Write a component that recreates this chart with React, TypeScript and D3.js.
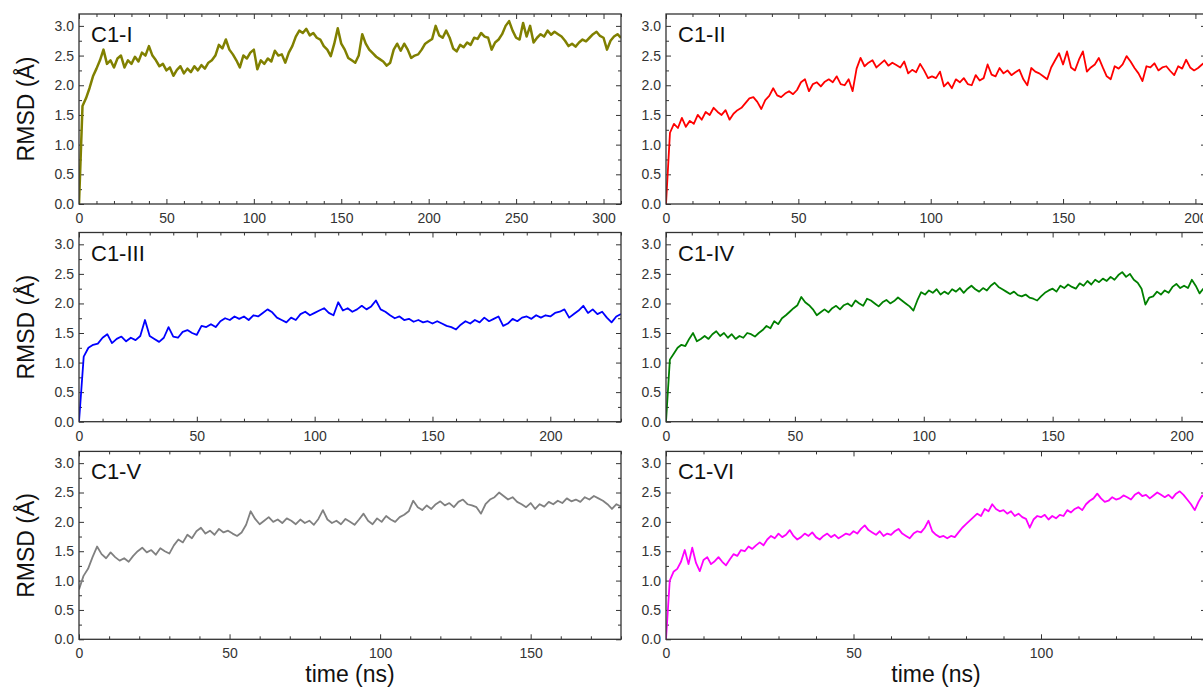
import React, { useRef, useEffect } from "react";
import * as d3 from "d3";

// panel names, colours and time sampling (ns)
const names = ["C1-I", "C1-II", "C1-III", "C1-IV", "C1-V", "C1-VI"];
const colors = ["#808000", "#ff0000", "#0000ff", "#008000", "#808080", "#ff00ff"];
const timeStep = [2, 1.5, 2, 1.5, 1.5, 1];
const timeMax = [310, 204, 230, 209.5, 180, 144];
const yTicks = [0, 0.5, 1, 1.5, 2, 2.5, 3];

// RMSD (Å)
const rmsdI = [
  0, 1.65, 1.78, 1.95, 2.15, 2.28, 2.42, 2.6, 2.36, 2.42,
  2.3, 2.45, 2.5, 2.3, 2.42, 2.36, 2.48, 2.4, 2.55, 2.5,
  2.66, 2.5, 2.42, 2.32, 2.36, 2.25, 2.3, 2.16, 2.26, 2.32,
  2.2, 2.28, 2.22, 2.32, 2.25, 2.34, 2.28, 2.38, 2.42, 2.5,
  2.68, 2.62, 2.77, 2.6, 2.52, 2.42, 2.3, 2.5, 2.45, 2.55,
  2.6, 2.27, 2.42, 2.36, 2.45, 2.4, 2.58, 2.5, 2.52, 2.38,
  2.55, 2.66, 2.82, 2.92, 2.88, 2.95, 2.84, 2.88, 2.8, 2.77,
  2.66, 2.6, 2.49, 2.7, 2.96, 2.7, 2.6, 2.46, 2.42, 2.38,
  2.5, 2.86, 2.7, 2.6, 2.54, 2.48, 2.44, 2.4, 2.33, 2.38,
  2.6, 2.7, 2.58, 2.7, 2.6, 2.46, 2.5, 2.52, 2.6, 2.7,
  2.74, 2.78, 3.0, 2.84, 2.8, 2.92, 2.8, 2.62, 2.57, 2.68,
  2.64, 2.72, 2.68, 2.8, 2.78, 2.88, 2.82, 2.8, 2.6, 2.72,
  2.77, 2.86, 3.0, 3.08, 2.92, 2.8, 2.77, 3.05, 2.82, 3.0,
  2.72, 2.8, 2.86, 2.82, 2.92, 2.85, 2.9, 2.86, 2.82, 2.75,
  2.66, 2.7, 2.65, 2.72, 2.77, 2.74, 2.8, 2.86, 2.9, 2.83,
  2.8, 2.6, 2.75, 2.82, 2.86, 2.8
];
const rmsdII = [
  0, 1.2, 1.35, 1.28, 1.45, 1.3, 1.4, 1.35, 1.5, 1.42,
  1.55, 1.5, 1.62, 1.55, 1.5, 1.58, 1.42, 1.52, 1.58, 1.62,
  1.7, 1.78, 1.8, 1.72, 1.6, 1.75, 1.82, 1.95, 1.83, 1.8,
  1.86, 1.9, 1.85, 1.92, 2.05, 2.1, 1.9, 2.02, 2.05, 1.98,
  2.06, 2.1, 2.05, 2.15, 2.02, 2.0, 2.1, 1.9, 2.28, 2.46,
  2.32, 2.38, 2.42, 2.3, 2.36, 2.42, 2.33, 2.38, 2.34, 2.3,
  2.4, 2.2, 2.26, 2.22, 2.36, 2.25, 2.12, 2.15, 2.12, 2.23,
  1.98, 2.05, 1.95, 2.1, 2.05, 2.12, 2.02, 2.0, 2.17, 2.08,
  2.12, 2.35, 2.18, 2.15, 2.29, 2.2, 2.25, 2.17, 2.22, 2.26,
  2.1, 2.0, 2.29, 2.23, 2.2, 2.15, 2.1, 2.3, 2.42, 2.54,
  2.35, 2.57, 2.3, 2.25, 2.43, 2.57, 2.23, 2.3, 2.35, 2.46,
  2.3, 2.15, 2.1, 2.32, 2.28, 2.35, 2.49, 2.4, 2.29, 2.2,
  2.07, 2.32, 2.3, 2.37, 2.25, 2.3, 2.32, 2.24, 2.17, 2.32,
  2.28, 2.43, 2.3, 2.25, 2.29, 2.35, 2.4
];
const rmsdIII = [
  0, 1.1, 1.25, 1.3, 1.32, 1.42, 1.48, 1.33, 1.4, 1.44,
  1.36, 1.42, 1.38, 1.45, 1.72, 1.45, 1.4, 1.35, 1.42, 1.6,
  1.44, 1.42, 1.52, 1.55, 1.5, 1.47, 1.62, 1.6, 1.65, 1.6,
  1.7, 1.75, 1.72, 1.78, 1.74, 1.78, 1.72, 1.8, 1.78, 1.84,
  1.9, 1.85, 1.76, 1.72, 1.68, 1.76, 1.72, 1.82, 1.86, 1.8,
  1.84, 1.88, 1.92, 1.84, 1.8, 2.02, 1.88, 1.92, 1.86, 1.9,
  1.96, 1.9, 1.95, 2.05, 1.9, 1.86, 1.8, 1.75, 1.78, 1.72,
  1.74, 1.69, 1.72, 1.68, 1.7, 1.66, 1.7, 1.66, 1.62, 1.6,
  1.56, 1.64, 1.7, 1.66, 1.72, 1.68, 1.76, 1.7, 1.74, 1.78,
  1.62, 1.66, 1.74, 1.7, 1.76, 1.78, 1.74, 1.8, 1.76, 1.8,
  1.78, 1.84, 1.86, 1.9, 1.76, 1.82, 1.88, 1.96, 1.84, 1.9,
  1.82, 1.86, 1.76, 1.68, 1.78, 1.82
];
const rmsdIV = [
  0, 1.05, 1.15, 1.25, 1.3, 1.28, 1.4, 1.5, 1.36, 1.4,
  1.45, 1.4, 1.48, 1.53, 1.45, 1.5, 1.42, 1.48, 1.4, 1.45,
  1.42, 1.5, 1.48, 1.44, 1.5, 1.55, 1.62, 1.58, 1.7, 1.65,
  1.75, 1.8, 1.86, 1.92, 1.97, 2.11, 2.02, 1.97, 1.9, 1.8,
  1.85, 1.9, 1.85, 1.92, 1.96, 1.9, 1.97, 2.0, 1.95, 2.05,
  2.0, 1.96, 2.08, 2.05, 2.0, 1.95, 2.02, 2.06, 2.0, 2.04,
  2.1, 2.05, 2.0, 1.95, 1.88, 2.05, 2.19, 2.15, 2.22, 2.18,
  2.24, 2.15, 2.2, 2.16, 2.24, 2.2, 2.26, 2.18, 2.25, 2.3,
  2.24, 2.2, 2.26, 2.22, 2.3, 2.35, 2.28, 2.24, 2.2, 2.16,
  2.2, 2.14, 2.12, 2.15, 2.1, 2.08, 2.05, 2.12, 2.18, 2.22,
  2.25, 2.2, 2.3, 2.26, 2.32, 2.28, 2.25, 2.34, 2.3, 2.38,
  2.32, 2.4, 2.36, 2.42, 2.38, 2.45, 2.4, 2.48, 2.53, 2.45,
  2.5, 2.4, 2.35, 2.25, 1.98, 2.1, 2.12, 2.2, 2.15, 2.22,
  2.18, 2.28, 2.33, 2.26, 2.3, 2.26, 2.4, 2.3, 2.17, 2.25
];
const rmsdV = [
  0.85, 1.08, 1.2, 1.4, 1.58, 1.45, 1.38, 1.48, 1.4, 1.34,
  1.38, 1.32, 1.42, 1.5, 1.56, 1.48, 1.52, 1.44, 1.55, 1.5,
  1.46, 1.6, 1.7, 1.65, 1.78, 1.72, 1.84, 1.9, 1.8, 1.85,
  1.78, 1.88, 1.82, 1.85, 1.8, 1.76, 1.82, 1.95, 2.18, 2.05,
  1.96, 2.02, 2.08, 2.0, 2.04, 1.98, 2.06, 2.02, 1.96, 2.04,
  1.98, 2.02, 1.95, 2.05, 2.2, 2.04, 1.98, 2.02, 1.96, 2.05,
  2.0, 1.95, 2.04, 2.14, 2.02, 1.96, 2.06, 2.0, 2.1, 2.04,
  2.0, 2.08, 2.12, 2.18, 2.36, 2.25, 2.2, 2.28, 2.22, 2.3,
  2.35, 2.28, 2.32, 2.25, 2.34, 2.38, 2.3, 2.28, 2.25, 2.14,
  2.3, 2.38, 2.42, 2.5, 2.44, 2.38, 2.42, 2.34, 2.3, 2.25,
  2.32, 2.22, 2.3, 2.26, 2.34, 2.3, 2.36, 2.32, 2.4, 2.35,
  2.38, 2.34, 2.42, 2.38, 2.44, 2.4, 2.36, 2.3, 2.22, 2.3,
  2.26
];
const rmsdVI = [
  0, 1.0, 1.15, 1.2, 1.32, 1.52, 1.28, 1.56, 1.3, 1.16,
  1.35, 1.4, 1.28, 1.33, 1.4, 1.32, 1.26, 1.36, 1.45, 1.42,
  1.52, 1.5, 1.58, 1.54, 1.6, 1.65, 1.6, 1.7, 1.76, 1.72,
  1.8, 1.74, 1.78, 1.86, 1.76, 1.7, 1.74, 1.8, 1.76, 1.82,
  1.74, 1.7, 1.76, 1.8, 1.74, 1.78, 1.72, 1.76, 1.8, 1.78,
  1.84, 1.8, 1.88, 1.94, 1.86, 1.82, 1.78, 1.84, 1.76, 1.8,
  1.78, 1.84, 1.88, 1.8, 1.76, 1.72, 1.8, 1.84, 1.82, 1.9,
  2.02, 1.84, 1.78, 1.74, 1.76, 1.72, 1.76, 1.74, 1.82, 1.9,
  1.96, 2.02, 2.08, 2.14, 2.1, 2.22, 2.18, 2.3, 2.22, 2.18,
  2.2, 2.14, 2.18, 2.1, 2.14, 2.08, 2.05, 1.9, 2.04, 2.1,
  2.08, 2.12, 2.04, 2.1, 2.06, 2.12, 2.1, 2.2, 2.16, 2.22,
  2.25, 2.2, 2.3, 2.36, 2.4, 2.48, 2.4, 2.34, 2.36, 2.42,
  2.38, 2.4, 2.45, 2.42, 2.38, 2.46, 2.5, 2.44, 2.46, 2.4,
  2.45, 2.5, 2.46, 2.42, 2.46, 2.4, 2.48, 2.52, 2.46, 2.38,
  2.3, 2.2, 2.34, 2.45, 2.4
];

const series = [rmsdI, rmsdII, rmsdIII, rmsdIV, rmsdV, rmsdVI];

const font = "'Liberation Sans', Arial, sans-serif";
const ink = "#333";

const App = () => {
  const ref = useRef(null);

  useEffect(() => {
    document.body.style.margin = "0";
    const svg = d3.select(ref.current);
    svg.selectAll("*").remove();

    // panel boxes in pixels
    const cols = [[79, 621], [666, 1206]];
    const rows = [[14, 204], [232.5, 421.7], [451.4, 639.3]];

    const styleAxis = (a) => {
      a.select(".domain").remove();
      a.attr("font-size", null).attr("font-family", null);
      a.selectAll("line").attr("stroke", ink).attr("stroke-width", 1);
      a.selectAll("text").attr("fill", ink).style("font-size", "14px").style("font-family", font);
    };

    series.forEach((vals, k) => {
      const c = k % 2;
      const r = Math.floor(k / 2);
      const [x0, x1] = cols[c];
      const [y0, y1] = rows[r];

      const x = d3.scaleLinear().domain([0, timeMax[k]]).range([x0, x1]);
      const y = d3.scaleLinear().domain([0, 3.2]).range([y1, y0]);

      const majorX = d3.range(0, timeMax[k] + 0.01, 50);
      const minorX = d3.range(10, timeMax[k] + 0.01, 10).filter((v) => v % 50 !== 0);
      const minorY = d3.range(0.25, 3.2, 0.5);

      const g = svg.append("g");

      g.append("clipPath").attr("id", "clip" + k)
        .append("rect").attr("x", x0).attr("y", y0).attr("width", x1 - x0).attr("height", y1 - y0);

      // bottom
      styleAxis(g.append("g").attr("transform", `translate(0,${y1})`)
        .call(d3.axisBottom(x).tickValues(majorX).tickSize(-5).tickPadding(9).tickFormat(d3.format("d"))));
      styleAxis(g.append("g").attr("transform", `translate(0,${y1})`)
        .call(d3.axisBottom(x).tickValues(minorX).tickSize(-3).tickFormat(() => "")));
      // top
      styleAxis(g.append("g").attr("transform", `translate(0,${y0})`)
        .call(d3.axisTop(x).tickValues(majorX).tickSize(-5).tickFormat(() => "")));
      styleAxis(g.append("g").attr("transform", `translate(0,${y0})`)
        .call(d3.axisTop(x).tickValues(minorX).tickSize(-3).tickFormat(() => "")));
      // left
      styleAxis(g.append("g").attr("transform", `translate(${x0},0)`)
        .call(d3.axisLeft(y).tickValues(yTicks).tickSize(-5).tickPadding(5).tickFormat(d3.format(".1f"))));
      styleAxis(g.append("g").attr("transform", `translate(${x0},0)`)
        .call(d3.axisLeft(y).tickValues(minorY).tickSize(-3).tickFormat(() => "")));
      // right
      styleAxis(g.append("g").attr("transform", `translate(${x1},0)`)
        .call(d3.axisRight(y).tickValues(yTicks).tickSize(-5).tickFormat(() => "")));
      styleAxis(g.append("g").attr("transform", `translate(${x1},0)`)
        .call(d3.axisRight(y).tickValues(minorY).tickSize(-3).tickFormat(() => "")));

      const line = d3.line()
        .x((d, i) => x(i * timeStep[k]))
        .y((d) => y(d));

      g.append("path")
        .datum(vals)
        .attr("clip-path", `url(#clip${k})`)
        .attr("d", line)
        .attr("fill", "none")
        .attr("stroke", colors[k])
        .attr("stroke-width", k === 0 ? 2.5 : 1.8)
        .attr("stroke-linejoin", "round");

      g.append("rect")
        .attr("x", x0).attr("y", y0)
        .attr("width", x1 - x0).attr("height", y1 - y0)
        .attr("fill", "none").attr("stroke", ink).attr("stroke-width", 1.3);

      g.append("text")
        .attr("x", x0 + 12).attr("y", y0 + 28)
        .style("font-family", font).style("font-size", "22px")
        .attr("fill", "#111")
        .text(names[k]);

      if (c === 0) {
        g.append("text")
          .attr("transform", `translate(34,${(y0 + y1) / 2}) rotate(-90)`)
          .attr("text-anchor", "middle")
          .style("font-family", font).style("font-size", "23px")
          .attr("fill", "#111")
          .text("RMSD (Å)");
      }
      if (r === 2) {
        g.append("text")
          .attr("x", (x0 + x1) / 2).attr("y", 682)
          .attr("text-anchor", "middle")
          .style("font-family", font).style("font-size", "23px")
          .attr("fill", "#111")
          .text("time (ns)");
      }
    });
  }, []);

  return (
    <div>
      <svg ref={ref} width={1203} height={693} style={{ display: "block", background: "#fff" }}></svg>
    </div>
  );
};

export default App;
